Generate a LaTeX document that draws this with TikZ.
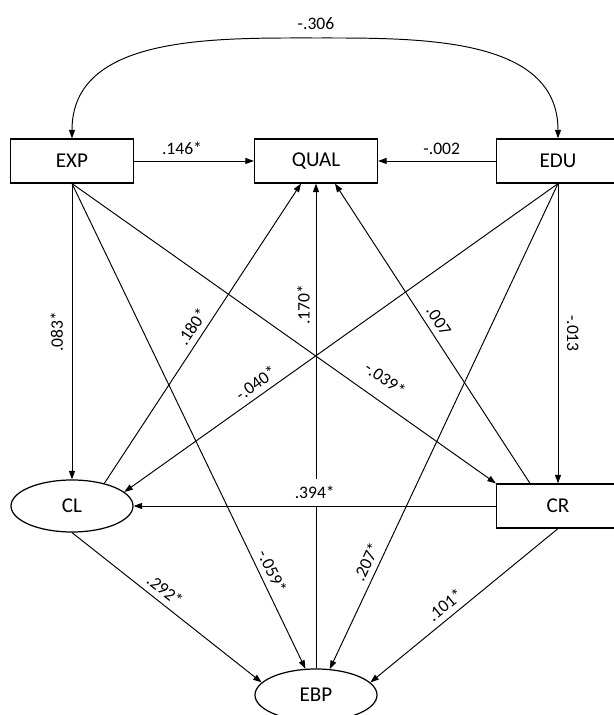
\documentclass[tikz,border=0pt]{standalone}
\usepackage{fontspec}
\setmainfont{Carlito}
\usetikzlibrary{arrows.meta}
\usetikzlibrary{shapes.geometric}
\tikzset{
  every node/.style = {font = \fontsize{10}{11}\selectfont}
}
\tikzset{
    >={Triangle[length=1.7mm,width=1.2mm]}
}
\tikzset{
  observed/.style = {draw, line width=0.7pt, minimum width=2.46cm,
    minimum height=0.88cm, inner sep=0pt, font=\fontsize{12}{13}\selectfont}
}
\tikzset{
  latent/.style = {draw, ellipse, line width=0.7pt, minimum width=2.44cm,
    minimum height=1.04cm, inner sep=0pt, font=\fontsize{12}{13}\selectfont}
}

\begin{document}
\begin{tikzpicture}[line width=0.55pt]
  \useasboundingbox (0,0) rectangle (12.26,14.3);

  \node[observed] at (1.44,11.08) (EXP) {EXP};
  \node[observed] at (6.32,11.08) (QUAL) {QUAL};
  \node[observed] at (11.16,11.08) (EDU) {EDU};
  \node[latent] at (1.44,4.18) (CL) {CL};
  \node[observed] at (11.16,4.18) (CR) {CR};
  \node[latent] at (6.32,0.4) (EBP) {EBP};
  \coordinate (arc top) at (6.32,13.54);

  % covariance between the two predictors
  \draw[<->] (EXP.north) to[out=90,in=180] (arc top)
    node[above=1pt] {-.306}
    to[out=0,in=90] (EDU.north);

  \draw[->] (EXP) -- (QUAL) node[pos=.4,above] {.146*};
  \draw[->] (EDU) -- (QUAL) node[pos=.46,above] {-.002};
  \draw[->] (EXP.south) -- (CL.north) node[midway,rotate=90,above=1.5pt] {.083*};
  \draw[->] (EDU.south) -- (CR.north) node[midway,rotate=-90,above=1.5pt] {-.013};
  \draw[->] (EBP.north) -- (QUAL.south) node[pos=.75,sloped,above] {.170*};
  \draw[->] (CR) -- (CL) node[midway,above,fill=white,inner sep=4pt] {.394*};

  \draw[->] (CL.35) -- ([xshift=-3mm]QUAL.south)
    node[midway,sloped,above] {.180*};
  \draw[->] ([xshift=-5.6mm]CR.north) -- ([xshift=3.8mm]QUAL.south)
    node[pos=.52,sloped,above] {.007};
  \draw[->] (EXP.south) -- (CR.north west) node[pos=.71,sloped,above=5pt] {-.039*};
  \draw[->] (EDU.south) -- (CL.15) node[pos=.68,sloped,above] {-.040*};
  \draw[->] (EXP.south) -- (EBP.112) node[pos=.81,sloped,above] {-.059*};
  \draw[->] (EDU.south) -- (EBP.62) node[pos=.79,sloped,above] {.207*};
  \draw[->] (CL.south) -- (EBP.167) node[pos=.45,sloped,above] {.292*};
  \draw[->] (CR.south) -- (EBP.13) node[pos=.56,sloped,above] {.101*};
\end{tikzpicture}
\end{document}
